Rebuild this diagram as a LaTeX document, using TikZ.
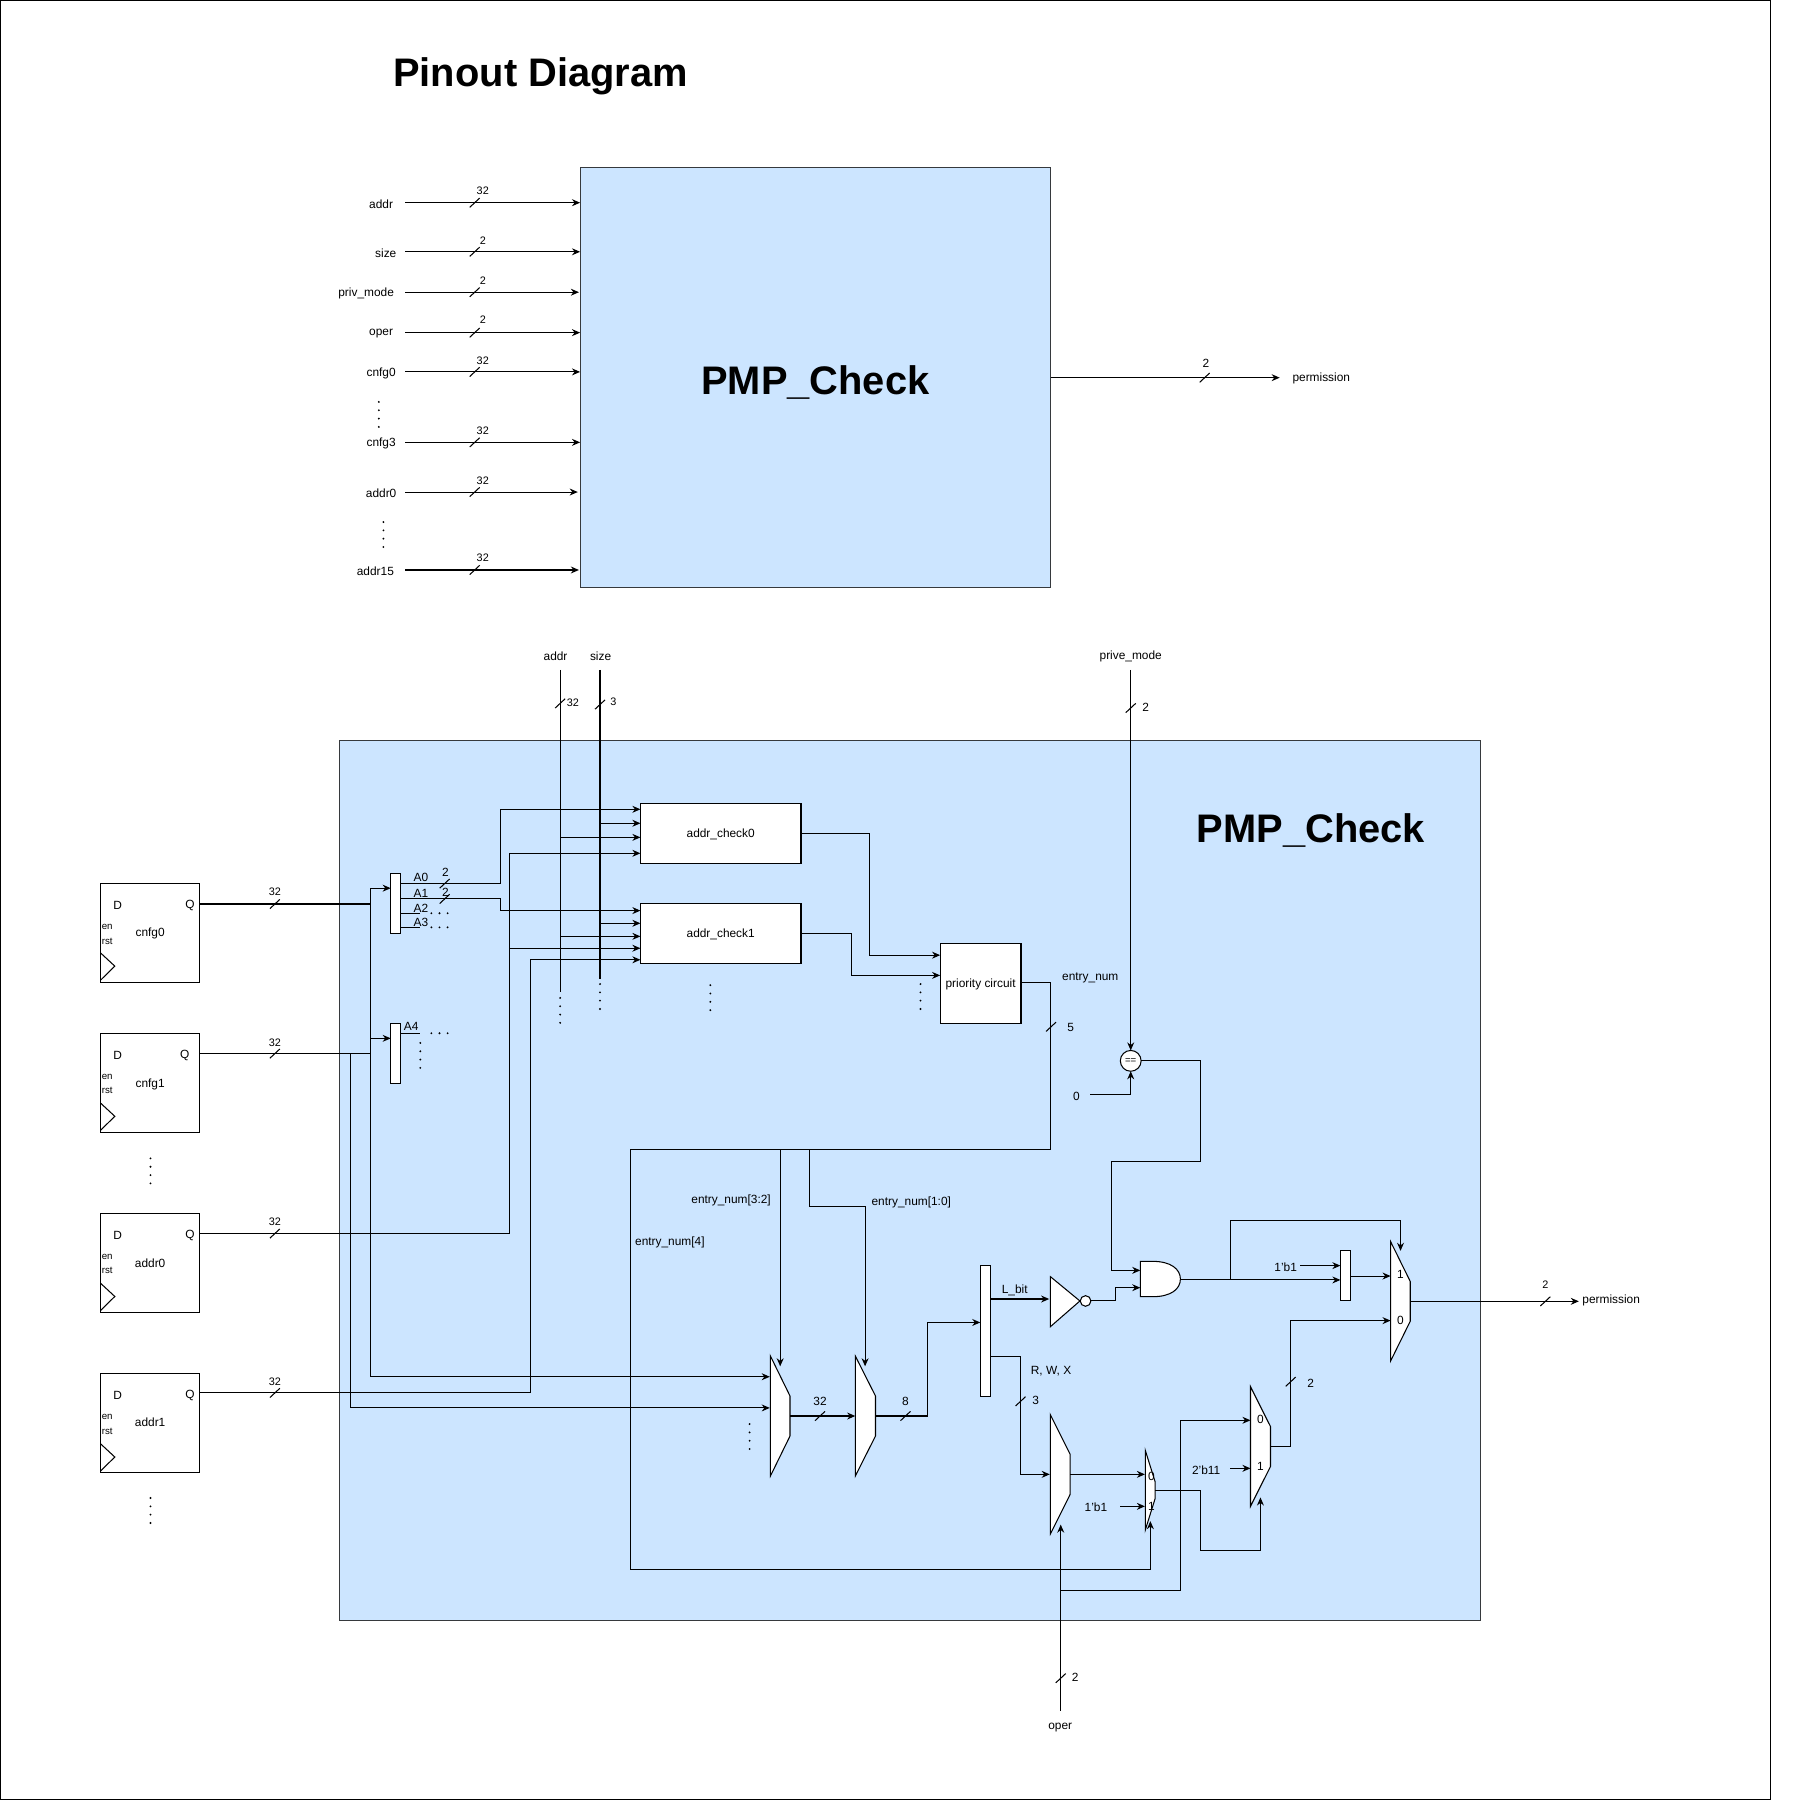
\documentclass[tikz,border=0pt]{standalone}
\usepackage{fontspec}
\setmainfont{Liberation Sans}
\usetikzlibrary{arrows.meta,shapes.geometric}
\definecolor{boxblue}{HTML}{CCE5FF}
\definecolor{boxedge}{HTML}{36393D}
\tikzset{
  lbl/.style={font=\fontsize{10.3}{12}\selectfont,inner sep=0pt,yshift=-1pt},
  wlbl/.style={font=\fontsize{9.4}{11}\selectfont,inner sep=0pt,yshift=-1pt},
  tinylbl/.style={font=\fontsize{8.4}{10}\selectfont,inner sep=0pt,yshift=-1pt},
  biglbl/.style={font=\fontsize{34.5}{40}\selectfont\bfseries,inner sep=0pt},
  bluebox/.style={shape=rectangle,draw=boxedge,fill=boxblue,line width=0.8pt,inner sep=0pt,outer sep=0pt},
  whitebox/.style={shape=rectangle,draw=black,fill=white,line width=0.9pt,inner sep=0pt,outer sep=0pt},
  textbox/.style={whitebox,font=\fontsize{10.3}{12}\selectfont,text height=7pt,text depth=0pt},
  mux/.style={shape=trapezium,draw=black,fill=white,line width=0.9pt,inner sep=0.5pt,outer sep=0pt,
    shape border rotate=270,trapezium stretches=true},
  wire/.style={draw=black,line width=0.9pt},
  sig/.style={wire,-{Stealth[length=7pt,width=6pt]}},
  busmark/.pic={\draw[wire] (-4.3,4) -- (4.3,-4);},
  clk/.pic={\draw[wire] (0,0) -- (12.4,11.5) -- (0,23.7);},
  vdots/.pic={\fill (0,0) circle (0.9) (0,7.2) circle (0.9) (0,14.4) circle (0.9) (0,21.6) circle (0.9);},
  hdots/.pic={\fill (0,0) circle (0.9) (7,0) circle (0.9) (14,0) circle (0.9);}
}

\begin{document}
\begin{tikzpicture}[x=1pt,y=-1pt]
	\useasboundingbox (0,0) rectangle (1568,1560);
	\draw[line width=0.8pt] (0.5,0.5) rectangle (1533,1558);

	% pinout part
	\node[biglbl] (title) at (468,66) {Pinout Diagram};
	\node[bluebox,minimum width=407.5,minimum height=364] (pin) at (706,327) {};
	\node[biglbl] (pintitle) at (706,331) {PMP\_Check};

	\node[lbl] (paddr) at (330,175.5) {addr};
	\node[lbl] (psize) at (334,218) {size};
	\node[lbl] (ppriv) at (317,253) {priv\_mode};
	\node[lbl] (poper) at (330,288) {oper};
	\node[lbl] (pcnfg0) at (330,322) {cnfg0};
	\node[lbl] (pcnfg3) at (330,383) {cnfg3};
	\node[lbl] (paddr0) at (330,426) {addr0};
	\node[lbl] (paddr15) at (325,493.5) {addr15};
	\node[lbl] (pperm) at (1144,326.5) {permission};

	\coordinate (s1) at (351,175.5);
	\coordinate (s2) at (351,218);
	\coordinate (s3) at (351,253);
	\coordinate (s4) at (351,288);
	\coordinate (s5) at (351,322);
	\coordinate (s6) at (351,383);
	\coordinate (s7) at (351,426);
	\coordinate (s8) at (351,493.5);
	\coordinate (pout) at (1108,327);

	\draw[sig] (s1) -- (pin.west |- s1);
	\draw[sig] (s2) -- (pin.west |- s2);
	\draw[sig,shorten >=1pt] (s3) -- (pin.west |- s3);
	\draw[sig] (s4) -- (pin.west |- s4);
	\draw[sig] (s5) -- (pin.west |- s5);
	\draw[sig] (s6) -- (pin.west |- s6);
	\draw[sig,shorten >=2pt] (s7) -- (pin.west |- s7);
	\draw[sig,shorten >=1pt] (s8) -- (pin.west |- s8);
	\draw[sig] (pin.east |- pout) -- (pout);

	\pic at (411,175.5) {busmark};
	\pic at (411,218) {busmark};
	\pic at (411,253) {busmark};
	\pic at (411,288) {busmark};
	\pic at (411,322) {busmark};
	\pic at (411,383) {busmark};
	\pic at (411,426) {busmark};
	\pic at (411,493.5) {busmark};
	\pic at (1043,327) {busmark};

	\node[wlbl] (w1) at (418,164) {32};
	\node[wlbl] (w2) at (418,207) {2};
	\node[wlbl] (w3) at (418,242) {2};
	\node[wlbl] (w4) at (418,276) {2};
	\node[wlbl] (w5) at (418,311) {32};
	\node[wlbl] (w6) at (418,372) {32};
	\node[wlbl] (w7) at (418,415) {32};
	\node[wlbl] (w8) at (418,482) {32};
	\node[lbl] (w9) at (1044,314) {2};
	\pic at (328,348) {vdots};
	\pic at (332,452) {vdots};

	% check part
	\node[bluebox,minimum width=987.5,minimum height=762] (chk) at (788,1022) {};
	\node[biglbl] (chktitle) at (1135,719) {PMP\_Check};

	\node[textbox,minimum width=86,minimum height=86] (ff0) at (130,807.7) {cnfg0};
	\node[textbox,minimum width=86,minimum height=86] (ff1) at (130,937.7) {cnfg1};
	\node[textbox,minimum width=86,minimum height=86] (ff2) at (130,1093.5) {addr0};
	\node[textbox,minimum width=86,minimum height=86] (ff3) at (130,1232) {addr1};

	\node[lbl] (d0) at (101.8,783) {D};
	\node[lbl] (q0) at (164.4,783) {Q};
	\node[tinylbl] (en0) at (92.8,801.7) {en};
	\node[tinylbl] (rst0) at (92.8,813.8) {rst};
	\pic at (87,825) {clk};
	\node[lbl] (d1) at (101.8,913) {D};
	\node[lbl] (q1) at (160,913) {Q};
	\node[tinylbl] (en1) at (92.8,931.3) {en};
	\node[tinylbl] (rst1) at (92.8,943.4) {rst};
	\pic at (87,955) {clk};
	\node[lbl] (d2) at (101.8,1069) {D};
	\node[lbl] (q2) at (164.4,1069) {Q};
	\node[tinylbl] (en2) at (92.8,1087) {en};
	\node[tinylbl] (rst2) at (92.8,1099) {rst};
	\pic at (87,1111) {clk};
	\node[lbl] (d3) at (101.8,1207) {D};
	\node[lbl] (q3) at (164.4,1207) {Q};
	\node[tinylbl] (en3) at (92.8,1226) {en};
	\node[tinylbl] (rst3) at (92.8,1238) {rst};
	\pic at (87,1250) {clk};
	\pic at (130.3,1003) {vdots};
	\pic at (130.3,1297) {vdots};

	\coordinate (o0) at (173,782.7);
	\coordinate (o1) at (173,912.2);
	\coordinate (o2) at (173,1068);
	\coordinate (o3) at (173,1206);

	\node[lbl] (naddr) at (481,567.5) {addr};
	\node[lbl] (nsize) at (520,567.5) {size};
	\node[lbl] (nprive) at (979,567.5) {prive\_mode};
	\node[lbl] (noper) at (918,1495) {oper};
	\node[lbl] (nperm) at (1395,1125) {permission};
	\coordinate (taddr) at (485,580);
	\coordinate (tsize) at (519.5,580);
	\coordinate (baddr) at (485,859);
	\coordinate (bsize) at (519.5,848);
	\coordinate (tprive) at (979,580);
	\coordinate (boper) at (918.4,1481);

	\draw[wire] (taddr) -- (baddr);
	\draw[wire] (tsize) -- (bsize);
	\pic at (485,864) {vdots};
	\pic at (519.5,852) {vdots};
	\pic at (485,609) {busmark};
	\pic at (519.5,610) {busmark};
	\pic at (979,613) {busmark};
	\pic at (918.4,1453) {busmark};
	\node[wlbl] (w10) at (496,607.5) {32};
	\node[wlbl] (w11) at (531,607) {3};
	\node[lbl] (w12) at (992,611.5) {2};
	\node[lbl] (w13) at (931,1451.5) {2};

	% split cnfg and addr_check
	\node[whitebox,minimum width=8.8,minimum height=52] (sp0) at (342.7,782) {};
	\node[whitebox,minimum width=8.8,minimum height=52] (sp1) at (342.7,912) {};
	\node[textbox,minimum width=139,minimum height=52] (ck0) at (624,721.5) {addr\_check0};
	\node[textbox,minimum width=139,minimum height=52] (ck1) at (624,808) {addr\_check1};
	\node[textbox,minimum width=70,minimum height=69.5] (prio) at (849,851.3) {priority circuit};
	\pic at (615,853) {vdots};
	\pic at (797,852) {vdots};

	\coordinate (a0) at (347.1,765);
	\coordinate (a1) at (347.1,778.3);
	\coordinate (a2) at (347.1,790.7);
	\coordinate (a3) at (347.1,802.9);
	\coordinate (a4) at (347.1,894.6);
	\coordinate (a2e) at (364,790.7);
	\coordinate (a3e) at (364,802.9);
	\coordinate (a4e) at (364,894.6);
	\coordinate (m1a) at (666.5,1192);
	\coordinate (m1b) at (666.5,1219);

	\draw[sig] (o0) -- (320.4,782.7) |- (sp0.west |- 0,769);
	\draw[sig] (o1) -- (320.4,912.2) |- (sp1.west |- 0,899);
	\draw[sig] (320.4,769) |- (m1a);
	\draw[sig] (303.2,912.2) |- (m1b);
	\draw[wire] (a2) -- (a2e);
	\draw[wire] (a3) -- (a3e);
	\draw[wire] (a4) -- (a4e);
	\draw[sig] (a0) -- (433,765) |- (ck0.west |- 0,700.7);
	\draw[sig] (a1) -- (433,778.3) |- (ck1.west |- 0,788.4);
	\draw[sig] (o2) -- (441.5,1068) |- (ck0.west |- 0,738.8);
	\draw[sig] (441.5,821) -- (ck1.west |- 0,821);
	\draw[sig] (o3) -- (459,1206) |- (ck1.west |- 0,831);
	\draw[sig] (519.5,712.8) -- (ck0.west |- 0,712.8);
	\draw[sig] (485,725) -- (ck0.west |- 0,725);
	\draw[sig] (519.5,799.4) -- (ck1.west |- 0,799.4);
	\draw[sig] (485,810.7) -- (ck1.west |- 0,810.7);
	\draw[sig] (ck0.east) -- (753,721.5) |- (prio.west |- 0,827);
	\draw[sig] (ck1.east) -- (737,808) |- (prio.west |- 0,844.5);

	\pic at (238,782.7) {busmark};
	\pic at (238,912.2) {busmark};
	\pic at (238,1068) {busmark};
	\pic at (238,1206) {busmark};
	\pic at (385,765) {busmark};
	\pic at (385,778.3) {busmark};
	\node[wlbl] (w14) at (238,771.4) {32};
	\node[wlbl] (w15) at (238,902) {32};
	\node[wlbl] (w16) at (238,1057) {32};
	\node[wlbl] (w17) at (238,1195) {32};
	\node[lbl] (w18) at (385.7,754.7) {2};
	\node[lbl] (w19) at (385.7,771.4) {2};
	\node[lbl] (na0) at (364.5,758.4) {A0};
	\node[lbl] (na1) at (364.5,772.3) {A1};
	\node[lbl] (na2) at (364.5,785.3) {A2};
	\node[lbl] (na3) at (364.5,798) {A3};
	\node[lbl] (na4) at (356,887.4) {A4};
	\pic at (373.5,790.7) {hdots};
	\pic at (373.5,802.9) {hdots};
	\pic at (373.5,894.6) {hdots};
	\pic at (363.9,903) {vdots};

	% entry_num and muxes
	\node[lbl] (nentry) at (944,845.5) {entry\_num};
	\node[lbl] (nentry32) at (633,1038) {entry\_num[3:2]};
	\node[lbl] (nentry10) at (789,1040.5) {entry\_num[1:0]};
	\node[lbl] (nentry4) at (580,1074.5) {entry\_num[4]};

	\coordinate (m1top) at (675.5,1183);
	\coordinate (m2top) at (749,1183);
	\coordinate (m5sel) at (996,1317);
	\coordinate (m3sel) at (918.4,1320);
	\coordinate (m4sel) at (1091.3,1296.5);
	\coordinate (m6sel) at (1212.6,1083);

	\draw[wire] (prio.east |- 0,851) -- (909.5,851) -- (909.5,995.5) -- (545.5,995.5) -- (545.5,1359) -- (996,1359);
	\draw[sig] (996,1359) -- (m5sel);
	\draw[sig] (675.5,995.5) -- (m1top);
	\draw[sig] (701,995.5) -- (701,1044.5) -| (m2top);
	\pic at (910,889) {busmark};
	\node[lbl] (w20) at (927,889) {5};

	\node[mux,minimum width=104,minimum height=17,trapezium left angle=45,trapezium right angle=45] (m1) at (675.5,1226) {};
	\node[mux,minimum width=104,minimum height=17.5,trapezium left angle=45,trapezium right angle=45] (m2) at (749.25,1226) {};
	\node[mux,minimum width=103.3,minimum height=17.2,trapezium left angle=45,trapezium right angle=45] (m3) at (918,1276.5) {};
	\node[mux,minimum width=69,minimum height=8.6,trapezium left angle=27,trapezium right angle=27] (m5) at (995.9,1290.2) {};
	\node[mux,minimum width=103.6,minimum height=17.3,trapezium left angle=45,trapezium right angle=45] (m4) at (1091.35,1252.4) {};
	\node[mux,minimum width=103.4,minimum height=17,trapezium left angle=45,trapezium right angle=45] (m6) at (1212.5,1126.7) {};
	\node[whitebox,minimum width=8.9,minimum height=113.3] (sp2) at (853.2,1152.6) {};
	\node[whitebox,minimum width=8.9,minimum height=43.3] (sp3) at (1165,1104.2) {};
	\pic at (649,1233) {vdots};

	\coordinate (m1o) at (684,1226);
	\coordinate (m2i) at (740.5,1226);
	\coordinate (m2o) at (757.9,1226);
	\coordinate (m3i) at (908.9,1276.5);
	\coordinate (m3o) at (926.6,1276.5);
	\coordinate (m5i0) at (991.3,1276.5);
	\coordinate (m5i1) at (991.3,1304.2);
	\coordinate (m5o) at (1000.2,1290.3);
	\coordinate (m4i0) at (1082.7,1229.7);
	\coordinate (m4i1) at (1082.7,1271.3);
	\coordinate (m4o) at (1100,1252.2);
	\coordinate (m6i1) at (1204,1104.8);
	\coordinate (m6i0) at (1204,1143.4);
	\coordinate (m6o) at (1221,1126.7);

	\draw[sig] (m1o) -- (m2i);
	\pic at (710,1226) {busmark};
	\node[lbl] (w21) at (710,1212) {32};
	\draw[sig] (m2o) -- (803,1226) |- (sp2.west |- 0,1145);
	\pic at (784,1226) {busmark};
	\node[lbl] (w22) at (784,1212) {8};

	\node[lbl] (nlbit) at (878.6,1116.3) {L\_bit};
	\node[lbl] (nrwx) at (910,1186.2) {R, W, X};
	\node[lbl] (w23) at (896.8,1211.9) {3};
	\coordinate (inv) at (908.4,1124.7);
	\draw[sig] (sp2.east |- inv) -- (inv);
	\draw[sig] (sp2.east |- 0,1174.3) -- (883.6,1174.3) |- (m3i);
	\pic at (883.6,1213.3) {busmark};
	\draw[wire,fill=white] (909.4,1105.3) -- (935,1126.4) -- (909.4,1148.7) -- cycle;
	\node[shape=circle,draw=black,fill=white,line width=0.9pt,minimum size=9.2,inner sep=0pt,outer sep=0pt] (nb) at (939.9,1126.4) {};
	\draw[wire,fill=white] (987.3,1092.1) -- (998,1092.1) .. controls (1014,1092.1) and (1022,1099) .. (1022,1107.4) .. controls (1022,1116) and (1014,1122.7) .. (998,1122.7) -- (987.3,1122.7) -- cycle;
	\coordinate (andin0) at (987.3,1099.9);
	\coordinate (andin1) at (987.3,1114.9);
	\coordinate (andout) at (1022,1108.2);
	\draw[sig] (nb.east) -- (965.7,1126.4) |- (andin1);

	% equal compare
	\node[shape=circle,draw=black,fill=white,line width=0.9pt,minimum size=18,inner sep=0pt,outer sep=0pt,font=\fontsize{8.4}{10}\selectfont] (eq) at (979,918.5) {==};
	\node[lbl] (zero) at (932,948.5) {0};
	\coordinate (zs) at (944,948);
	\draw[sig] (tprive) -- (eq.north);
	\draw[sig] (zs) -| (eq.south);
	\draw[sig] (eq.east) -- (1039,918.5) -- (1039,1006) -- (962,1006) |- (andin0);

	\draw[sig] (andout) -- (sp3.west |- andout);
	\draw[sig] (1065,1108.2) -- (1065,1056.6) -| (m6sel);
	\node[lbl] (n1b1a) at (1113.2,1095.8) {1'b1};
	\coordinate (c1b1a) at (1125.8,1095.8);
	\draw[sig] (c1b1a) -- (sp3.west |- c1b1a);
	\draw[sig] (sp3.east |- m6i1) -- (m6i1);
	\node[lbl] (m6t1) at (1212.6,1102.8) {1};
	\node[lbl] (m6t0) at (1212.6,1142.3) {0};
	\coordinate (perm) at (1367,1126.7);
	\draw[sig] (m6o) -- (perm);
	\pic at (1338,1126.7) {busmark};
	\node[wlbl] (w24) at (1338,1111) {2};

	\draw[sig] (m3o) -- (m5i0);
	\node[lbl] (m5t0) at (996.9,1277.4) {0};
	\node[lbl] (m5t1) at (996.9,1303.6) {1};
	\node[lbl] (n1b1b) at (948.9,1304.2) {1'b1};
	\coordinate (c1b1b) at (970,1304.2);
	\draw[sig] (c1b1b) -- (m5i1);
	\draw[sig] (boper) -- (m3sel);
	\draw[sig] (918.4,1377) -- (1022,1377) |- (m4i0);
	\draw[sig] (m5o) -- (1039.3,1290.3) -- (1039.3,1342.3) -| (m4sel);
	\node[lbl] (m4t0) at (1091.3,1228.3) {0};
	\node[lbl] (m4t1) at (1091.3,1268.4) {1};
	\node[lbl] (n2b11) at (1044.3,1271.6) {2'b11};
	\coordinate (c2b11) at (1065,1271.3);
	\draw[sig] (c2b11) -- (m4i1);
	\draw[sig] (m4o) -- (1117.5,1252.2) |- (m6i0);
	\pic at (1117.5,1196.3) {busmark};
	\node[lbl] (w25) at (1134.7,1196.3) {2};
\end{tikzpicture}
\end{document}
